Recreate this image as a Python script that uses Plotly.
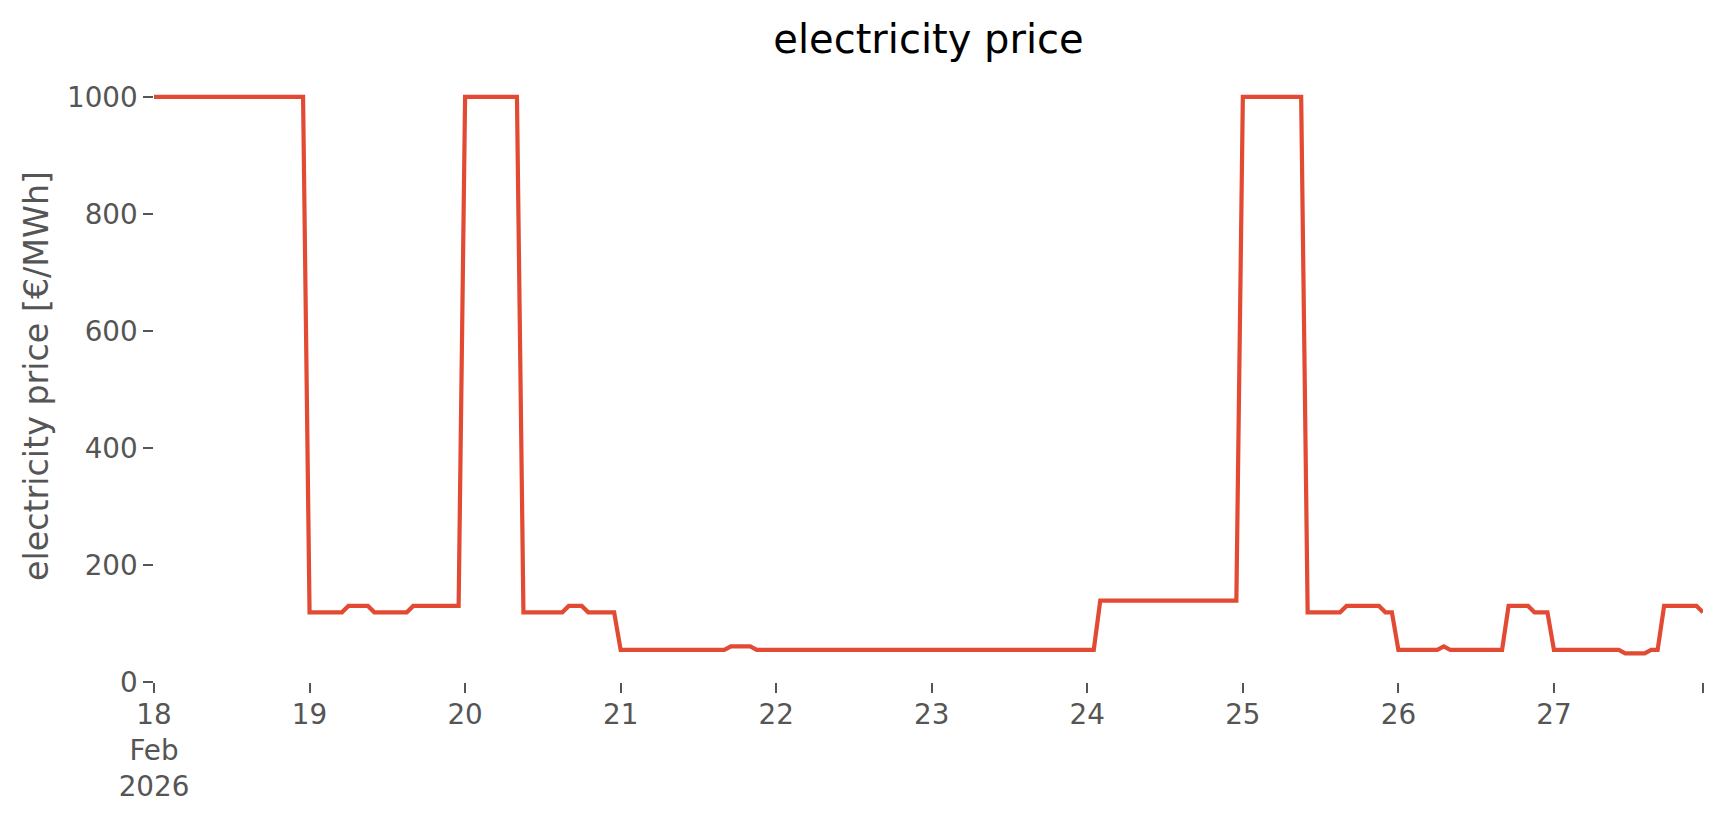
import pandas as pd
import plotly.graph_objects as go

# hourly electricity price [€/MWh], one list per day (18 Feb .. 27 Feb 2026)
day_18 = [1000] * 24
day_19 = [119] * 6 + [130] * 4 + [119] * 6 + [130] * 8
day_20 = [1000] * 9 + [119] * 7 + [130] * 3 + [119] * 5
day_21 = [55] * 17 + [61] * 4 + [55] * 3
day_22 = [55] * 24
day_23 = [55] * 24
day_24 = [55] * 2 + [139] * 22
day_25 = [1000] * 10 + [119] * 6 + [130] * 6 + [119] * 2
day_26 = [55] * 7 + [61] + [55] * 9 + [130] * 4 + [119] * 3
day_27 = [55] * 11 + [49] * 4 + [55] * 2 + [130] * 6 + [119]

price = (day_18 + day_19 + day_20 + day_21 + day_22 + day_23
         + day_24 + day_25 + day_26 + day_27)
times = pd.date_range("2026-02-18 00:00", periods=len(price), freq="h")

tick_vals = list(pd.date_range("2026-02-18", "2026-02-27", freq="D")) + [times[-1]]
tick_text = ["18<br>Feb<br>2026", "19", "20", "21", "22", "23", "24", "25", "26", "27", ""]
y_ticks = [0, 200, 400, 600, 800, 1000]

# page has an 8px body margin: work in figure coordinates
OFF = 8
W, H = 1724 - 2 * OFF, 815 - 2 * OFF
L, R = 153.6 - OFF, 1703.4 - OFF
T, B = 68.7 - OFF, 682.0 - OFF

fig = go.Figure()
fig.add_trace(go.Scatter(
    x=times, y=price, mode="lines",
    line=dict(color="#E24A33", width=4.2),
    showlegend=False,
))

font_family = "DejaVu Sans"
fig.update_layout(
    width=W, height=H,
    margin=dict(l=L, r=W - R, t=T, b=H - B, autoexpand=False),
    paper_bgcolor="white", plot_bgcolor="white",
    font=dict(family=font_family, color="#555555", size=27.8),
    title=dict(text="electricity price", x=(L + R) / 2 / W, xanchor="center",
               y=1 - (38.5 - OFF) / H, yanchor="middle",
               font=dict(family=font_family, size=40, color="black")),
    xaxis=dict(
        range=[times[0], times[-1]],
        tickmode="array", tickvals=tick_vals, ticktext=tick_text,
        ticks="outside", ticklen=9.7, tickwidth=2.2, tickcolor="#555555",
        showgrid=False, showline=False, zeroline=False,
        tickfont=dict(family=font_family, size=27.8, color="#555555"),
        ticklabelstandoff=-2,
    ),
    yaxis=dict(
        range=[0, 1047.55],
        tickmode="array", tickvals=y_ticks,
        ticks="outside", ticklen=9.7, tickwidth=2.2, tickcolor="#555555",
        showgrid=False, showline=False, zeroline=False,
        tickfont=dict(family=font_family, size=27.8, color="#555555"),
        ticklabelstandoff=0,
    ),
    annotations=[dict(
        text="electricity price [€/MWh]", textangle=-90,
        xref="paper", yref="paper",
        x=(36 - OFF - L) / (R - L), y=0.5, xanchor="center", yanchor="middle",
        showarrow=False,
        font=dict(family=font_family, size=33.3, color="#555555"),
    )],
)

fig.write_html("out.html")
